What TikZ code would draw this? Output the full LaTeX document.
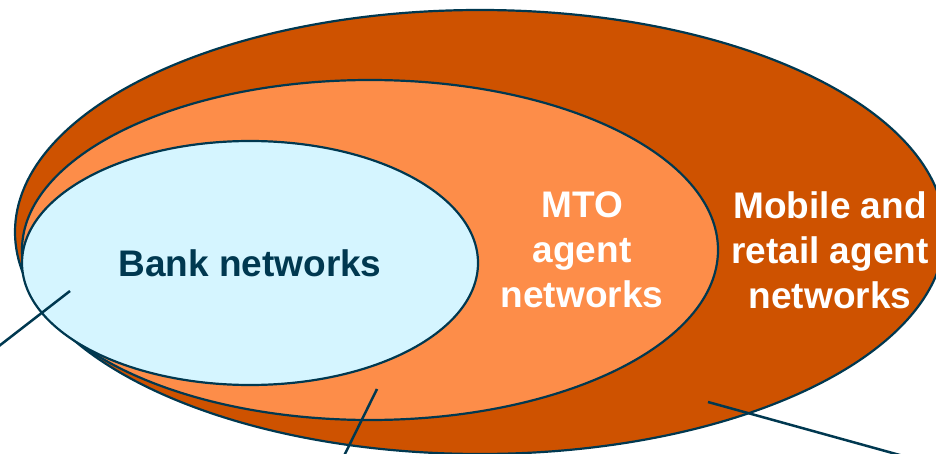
\documentclass[tikz,border=0pt]{standalone}
\usepackage{fontspec}
\setmainfont{Liberation Sans}
\usepackage{tikz}
\usetikzlibrary{shapes.geometric}
\definecolor{rimnavy}{RGB}{0,56,80}
\definecolor{mobileorange}{RGB}{206,82,0}
\definecolor{mtoorange}{RGB}{253,141,73}
\definecolor{bankcyan}{RGB}{213,245,255}
\tikzstyle{ring} = [ellipse, draw=rimnavy, line width=2.2pt, inner sep=0pt]
\tikzstyle{tag} = [font=\fontsize{37}{45}\selectfont\bfseries, align=center, text=white]
\tikzstyle{pointer} = [draw=rimnavy, line width=2.5pt]

\begin{document}
\begin{tikzpicture}[x=1pt, y=-1pt]
\path[use as bounding box, clip] (0,0) rectangle (936,454);
\node (mobile) [ring, fill=mobileorange, minimum width=930pt, minimum height=444pt] at (480,232) {};
\node (mto) [ring, fill=mtoorange, minimum width=696pt, minimum height=340pt] at (370,250) {};
\node (bank) [ring, fill=bankcyan, minimum width=456pt, minimum height=244pt] at (250,263) {};

\node (bankTxt) [tag, text=rimnavy] at (250,263) {Bank networks};
\node (mtoTxt) [tag] at (582,250) {MTO\\agent\\networks};
\node (mobileTxt) [tag] at (830,250) {Mobile and\\retail agent\\networks};

\coordinate (bankPin) at (70,291);
\coordinate (bankEnd) at (-10,353);
\coordinate (mtoPin) at (377,389);
\coordinate (mtoEnd) at (341,462);
\coordinate (mobilePin) at (708,402);
\coordinate (mobileEnd) at (925,462);

\draw [pointer] (bankPin) -- (bankEnd);
\draw [pointer] (mtoPin) -- (mtoEnd);
\draw [pointer] (mobilePin) -- (mobileEnd);
\end{tikzpicture}
\end{document}
